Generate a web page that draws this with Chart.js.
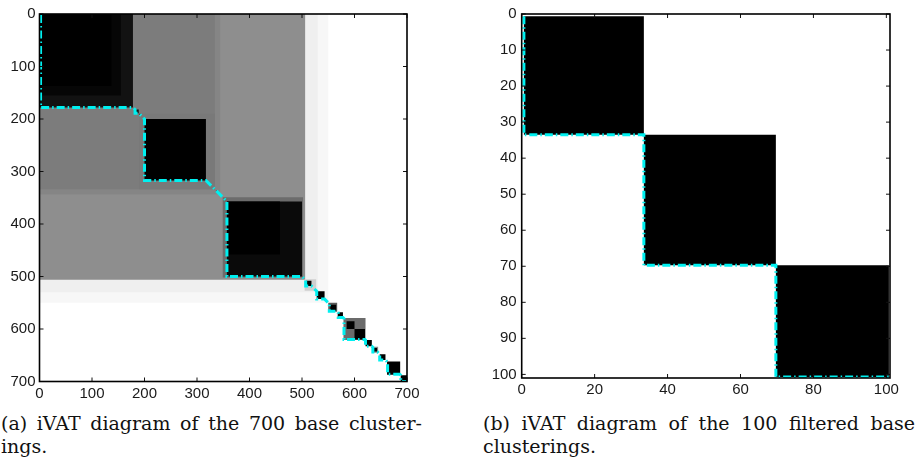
<!DOCTYPE html>
<html>
<head>
<meta charset="utf-8">
<script src="https://cdn.jsdelivr.net/npm/chart.js@4"></script>
<style>
  body { margin: 0; width: 916px; height: 462px; background: #fff; position: relative; overflow: hidden; }
  canvas { position: absolute; top: 0; }
  #left-chart { left: 0; }
  #right-chart { left: 470px; }
  .cap { position: absolute; top: 412px; font-family: "DejaVu Serif", serif; font-size: 19px; line-height: 23px; color: #111; }
  .cap .j { text-align: justify; text-align-last: justify; }
  #cap-a { left: 1px; width: 421px; }
  #cap-b { left: 483px; width: 432px; }
</style>
</head>
<body>
<canvas id="left-chart" width="430" height="410"></canvas>
<canvas id="right-chart" width="446" height="410"></canvas>
<div class="cap" id="cap-a"><div class="j">(a) iVAT diagram of the 700 base cluster-</div><div>ings.</div></div>
<div class="cap" id="cap-b"><div class="j">(b) iVAT diagram of the 100 filtered base</div><div>clusterings.</div></div>
<script>
const leftTicks = [0, 100, 200, 300, 400, 500, 600, 700];
const rightXTicks = [0, 20, 40, 60, 80, 100];
const rightYTicks = [0, 10, 20, 30, 40, 50, 60, 70, 80, 90, 100];

// left image: squares on the diagonal, painted back to front
const leftLo   = [0, 0, 0, 0, 0, 190, 0, 0, 0, 182, 190, 200, 336, 349, 357, 357, 505, 508, 528, 550, 554, 568, 579, 585, 600, 621, 634, 636, 648, 662, 688];
const leftHi   = [550, 530, 506, 344, 334, 334, 178, 155, 137, 189, 192, 317, 338, 502, 500, 458, 527, 518, 543, 567, 565, 578, 621, 600, 620, 633, 645, 643, 659, 687, 700];
const leftGray = ['#f7f7f7', '#efefef', '#8e8e8e', '#858585', '#7c7c7c', '#797979', '#121212', '#060606', '#000000',
                  '#111111', '#222222', '#000000', '#333333', '#6c6c6c', '#0a0a0a', '#000000', '#cfcfcf', '#000000',
                  '#000000', '#5a5a5a', '#000000', '#000000', '#6b6b6b', '#000000', '#000000', '#000000', '#888888',
                  '#000000', '#000000', '#000000', '#000000'];

// cluster bounds traced by the cyan line
const leftCutLo = [2, 182, 200, 357, 507, 528, 552, 569, 580, 621, 635, 648, 663, 688];
const leftCutHi = [178, 189, 317, 500, 518, 543, 566, 578, 620, 633, 644, 659, 686, 700];

const rightLo   = [0.6, 33.5, 69.7];
const rightHi   = [33.5, 69.7, 100.7];
const rightGray = ['#000000', '#000000', '#000000'];
const rightCutLo = [0.6, 33.5, 69.7];
const rightCutHi = [33.5, 69.7, 100.7];

function squareSets(lo, hi, gray) {
    return lo.map((a, i) => ({
        data: [{x: a, y: a}, {x: hi[i], y: a}, {x: hi[i], y: hi[i]}, {x: a, y: hi[i]}, {x: a, y: a}],
        showLine: true,
        fill: 'shape',
        backgroundColor: gray[i],
        borderWidth: 0,
        pointRadius: 0,
        order: lo.length - i + 1
    }));
}

function stairLine(lo, hi) {
    const pts = [];
    lo.forEach((a, i) => {
        pts.push({x: a, y: a}, {x: a, y: hi[i]}, {x: hi[i], y: hi[i]});
    });
    return {
        data: pts,
        showLine: true,
        fill: false,
        borderColor: '#00f0f0',
        borderWidth: 3,
        borderDash: [8, 3, 1.5, 3],
        pointRadius: 0,
        order: 0
    };
}

// MATLAB style box with ticks pointing inwards
const boxPlugin = {
    id: 'box',
    afterDatasetsDraw(chart) {
        const {ctx, chartArea: a, scales: {x, y}} = chart;
        ctx.save();
        ctx.strokeStyle = '#111';
        ctx.lineWidth = 1;
        ctx.beginPath();
        x.ticks.forEach(t => {
            const px = x.getPixelForValue(t.value);
            ctx.moveTo(px, a.top); ctx.lineTo(px, a.top + 4);
            ctx.moveTo(px, a.bottom); ctx.lineTo(px, a.bottom - 4);
        });
        y.ticks.forEach(t => {
            const py = y.getPixelForValue(t.value);
            ctx.moveTo(a.left, py); ctx.lineTo(a.left + 4, py);
            ctx.moveTo(a.right, py); ctx.lineTo(a.right - 4, py);
        });
        ctx.stroke();
        ctx.strokeStyle = '#000';
        ctx.lineWidth = 1.6;
        ctx.strokeRect(a.left, a.top, a.right - a.left, a.bottom - a.top);
        ctx.restore();
    }
};

const tickFont = {family: '"Liberation Sans", Arial, sans-serif', size: 15};

function makeChart(id, sets, xMax, yMax, xTicks, yTicks, dims) {
    return new Chart(document.getElementById(id), {
        type: 'scatter',
        data: {datasets: sets},
        options: {
            responsive: false,
            animation: false,
            events: [],
            layout: {padding: {left: 0, right: dims.right, top: dims.top, bottom: 0}},
            plugins: {legend: {display: false}, tooltip: {enabled: false}},
            scales: {
                x: {
                    type: 'linear', min: 0, max: xMax,
                    grid: {display: false, drawTicks: false},
                    border: {display: false},
                    ticks: {font: tickFont, color: '#1a1a1a', padding: dims.xPad, maxRotation: 0},
                    afterBuildTicks: s => { s.ticks = xTicks.map(v => ({value: v})); },
                    afterFit: s => { s.height = dims.xH; }
                },
                y: {
                    type: 'linear', min: 0, max: yMax, reverse: true,
                    grid: {display: false, drawTicks: false},
                    border: {display: false},
                    ticks: {font: tickFont, color: '#1a1a1a', padding: dims.yPad},
                    afterBuildTicks: s => { s.ticks = yTicks.map(v => ({value: v})); },
                    afterFit: s => { s.width = dims.yW; }
                }
            }
        },
        plugins: [boxPlugin]
    });
}

makeChart('left-chart',
    [stairLine(leftCutLo, leftCutHi)].concat(squareSets(leftLo, leftHi, leftGray)),
    700, 700, leftTicks, leftTicks,
    {right: 23, top: 14, xH: 28.5, yW: 39.5, xPad: 3, yPad: 4});

makeChart('right-chart',
    [stairLine(rightCutLo, rightCutHi)].concat(squareSets(rightLo, rightHi, rightGray)),
    101, 101, rightXTicks, rightYTicks,
    {right: 26, top: 10, xH: 32, yW: 51.7, xPad: 3, yPad: 5});
</script>
</body>
</html>
